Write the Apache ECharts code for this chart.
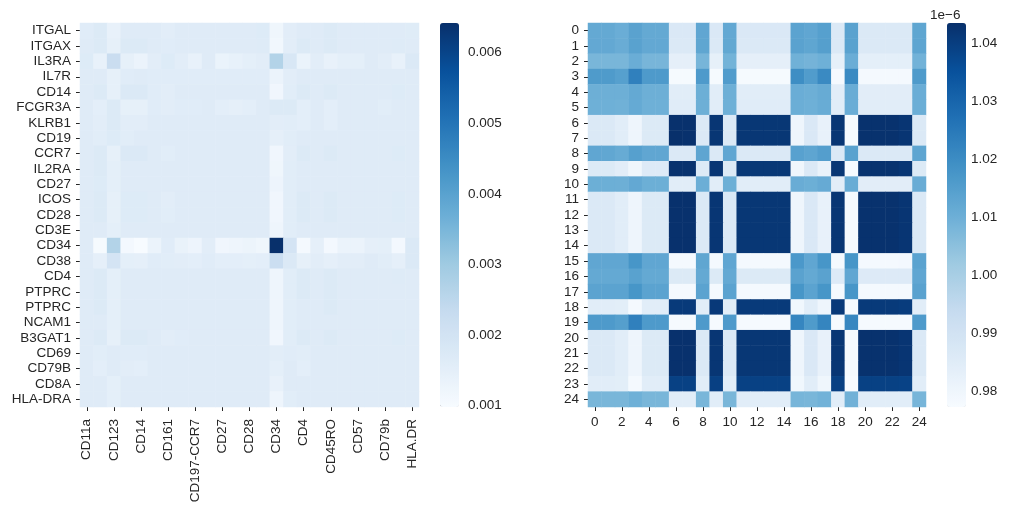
<!DOCTYPE html>
<html><head><meta charset="utf-8">
<script src="https://cdn.jsdelivr.net/npm/echarts@6/dist/echarts.min.js"></script>
<style>html,body{margin:0;padding:0;background:#fff}#c{width:1012px;height:513px}</style>
</head><body><div id="c"></div>
<script>
// ---------- data ----------
const leftRowLabels = ['ITGAL','ITGAX','IL3RA','IL7R','CD14','FCGR3A','KLRB1','CD19','CCR7','IL2RA','CD27','ICOS','CD28','CD3E','CD34','CD38','CD4','PTPRC','PTPRC','NCAM1','B3GAT1','CD69','CD79B','CD8A','HLA-DRA'];
const leftColLabels = ['CD11a','CD11c','CD123','CD127','CD14','CD16','CD161','CD19','CD197-CCR7','CD25','CD27','CD278-ICOS','CD28','CD3','CD34','CD38','CD4','CD45RA','CD45RO','CD56','CD57','CD69','CD79b','CD8a','HLA.DR'];
const leftMatrix = [
 [0.00161,0.00171,0.00140,0.00164,0.00164, 0.00164,0.00156,0.00164,0.00164,0.00164, 0.00164,0.00164,0.00164,0.00168,0.00120, 0.00156,0.00164,0.00164,0.00171,0.00164, 0.00164,0.00164,0.00164,0.00164,0.00162],
 [0.00164,0.00171,0.00145,0.00171,0.00171, 0.00164,0.00161,0.00164,0.00164,0.00164, 0.00164,0.00164,0.00164,0.00166,0.00115, 0.00156,0.00171,0.00164,0.00171,0.00164, 0.00164,0.00164,0.00164,0.00166,0.00164],
 [0.00168,0.00140,0.00224,0.00145,0.00130, 0.00156,0.00168,0.00156,0.00140,0.00164, 0.00134,0.00142,0.00151,0.00156,0.00267, 0.00184,0.00134,0.00156,0.00140,0.00151, 0.00151,0.00164,0.00156,0.00140,0.00174],
 [0.00164,0.00164,0.00145,0.00161,0.00164, 0.00161,0.00161,0.00161,0.00161,0.00161, 0.00161,0.00161,0.00161,0.00161,0.00130, 0.00156,0.00164,0.00164,0.00164,0.00164, 0.00164,0.00164,0.00164,0.00164,0.00164],
 [0.00164,0.00171,0.00145,0.00174,0.00174, 0.00161,0.00156,0.00164,0.00164,0.00164, 0.00164,0.00164,0.00164,0.00164,0.00118, 0.00158,0.00171,0.00164,0.00171,0.00164, 0.00164,0.00164,0.00164,0.00168,0.00164],
 [0.00164,0.00153,0.00171,0.00145,0.00145, 0.00161,0.00156,0.00161,0.00161,0.00164, 0.00153,0.00148,0.00153,0.00164,0.00171, 0.00171,0.00153,0.00164,0.00153,0.00164, 0.00164,0.00164,0.00158,0.00164,0.00164],
 [0.00164,0.00156,0.00171,0.00156,0.00156, 0.00164,0.00164,0.00164,0.00164,0.00164, 0.00164,0.00164,0.00164,0.00164,0.00156, 0.00158,0.00153,0.00164,0.00153,0.00164, 0.00164,0.00164,0.00164,0.00164,0.00164],
 [0.00164,0.00158,0.00168,0.00158,0.00164, 0.00164,0.00164,0.00164,0.00164,0.00164, 0.00164,0.00164,0.00164,0.00164,0.00148, 0.00158,0.00164,0.00164,0.00164,0.00164, 0.00164,0.00164,0.00164,0.00164,0.00164],
 [0.00164,0.00171,0.00145,0.00174,0.00174, 0.00164,0.00158,0.00164,0.00164,0.00164, 0.00164,0.00164,0.00164,0.00164,0.00118, 0.00156,0.00171,0.00164,0.00171,0.00164, 0.00164,0.00164,0.00164,0.00168,0.00164],
 [0.00164,0.00171,0.00151,0.00164,0.00164, 0.00164,0.00164,0.00164,0.00164,0.00164, 0.00164,0.00164,0.00164,0.00164,0.00120, 0.00158,0.00164,0.00164,0.00164,0.00164, 0.00164,0.00164,0.00164,0.00164,0.00164],
 [0.00164,0.00168,0.00151,0.00164,0.00164, 0.00164,0.00164,0.00164,0.00164,0.00164, 0.00164,0.00164,0.00164,0.00164,0.00126, 0.00158,0.00164,0.00164,0.00164,0.00164, 0.00164,0.00164,0.00164,0.00164,0.00164],
 [0.00164,0.00171,0.00145,0.00168,0.00168, 0.00164,0.00156,0.00164,0.00164,0.00164, 0.00164,0.00164,0.00164,0.00164,0.00118, 0.00158,0.00171,0.00164,0.00171,0.00164, 0.00164,0.00164,0.00164,0.00168,0.00164],
 [0.00164,0.00171,0.00145,0.00168,0.00168, 0.00164,0.00158,0.00164,0.00164,0.00164, 0.00164,0.00164,0.00164,0.00164,0.00118, 0.00158,0.00171,0.00164,0.00171,0.00164, 0.00164,0.00164,0.00164,0.00168,0.00164],
 [0.00164,0.00164,0.00151,0.00164,0.00164, 0.00164,0.00164,0.00164,0.00164,0.00164, 0.00164,0.00164,0.00164,0.00164,0.00123, 0.00158,0.00164,0.00164,0.00164,0.00164, 0.00164,0.00164,0.00164,0.00164,0.00164],
 [0.00164,0.00104,0.00267,0.00110,0.00098, 0.00132,0.00161,0.00137,0.00126,0.00156, 0.00118,0.00123,0.00129,0.00120,0.00642, 0.00195,0.00105,0.00148,0.00110,0.00132, 0.00132,0.00148,0.00151,0.00110,0.00174],
 [0.00164,0.00148,0.00195,0.00151,0.00148, 0.00161,0.00158,0.00156,0.00153,0.00161, 0.00153,0.00153,0.00151,0.00153,0.00221, 0.00174,0.00145,0.00156,0.00148,0.00156, 0.00156,0.00164,0.00158,0.00148,0.00174],
 [0.00164,0.00171,0.00151,0.00164,0.00164, 0.00164,0.00164,0.00164,0.00164,0.00164, 0.00164,0.00164,0.00164,0.00164,0.00123, 0.00158,0.00171,0.00164,0.00171,0.00164, 0.00164,0.00164,0.00164,0.00166,0.00164],
 [0.00164,0.00171,0.00151,0.00164,0.00164, 0.00164,0.00164,0.00164,0.00164,0.00164, 0.00164,0.00164,0.00164,0.00164,0.00123, 0.00158,0.00171,0.00164,0.00171,0.00164, 0.00164,0.00164,0.00164,0.00164,0.00164],
 [0.00164,0.00171,0.00151,0.00164,0.00164, 0.00164,0.00164,0.00164,0.00164,0.00164, 0.00164,0.00164,0.00164,0.00164,0.00123, 0.00158,0.00164,0.00164,0.00171,0.00164, 0.00164,0.00164,0.00164,0.00164,0.00164],
 [0.00164,0.00164,0.00151,0.00164,0.00164, 0.00164,0.00164,0.00164,0.00164,0.00164, 0.00164,0.00164,0.00164,0.00164,0.00123, 0.00158,0.00164,0.00164,0.00164,0.00164, 0.00164,0.00164,0.00164,0.00164,0.00164],
 [0.00164,0.00171,0.00145,0.00171,0.00171, 0.00164,0.00156,0.00161,0.00164,0.00164, 0.00164,0.00164,0.00164,0.00164,0.00118, 0.00158,0.00171,0.00164,0.00171,0.00164, 0.00164,0.00164,0.00164,0.00168,0.00164],
 [0.00164,0.00158,0.00164,0.00161,0.00161, 0.00164,0.00164,0.00164,0.00164,0.00164, 0.00164,0.00164,0.00164,0.00164,0.00156, 0.00161,0.00158,0.00164,0.00164,0.00164, 0.00164,0.00164,0.00164,0.00164,0.00164],
 [0.00164,0.00153,0.00164,0.00156,0.00153, 0.00164,0.00164,0.00164,0.00164,0.00164, 0.00164,0.00164,0.00164,0.00164,0.00151, 0.00164,0.00153,0.00164,0.00164,0.00164, 0.00164,0.00164,0.00164,0.00164,0.00164],
 [0.00164,0.00164,0.00151,0.00164,0.00164, 0.00164,0.00164,0.00164,0.00164,0.00164, 0.00164,0.00164,0.00164,0.00164,0.00140, 0.00164,0.00164,0.00164,0.00164,0.00164, 0.00164,0.00164,0.00164,0.00164,0.00164],
 [0.00164,0.00164,0.00151,0.00164,0.00164, 0.00164,0.00164,0.00164,0.00164,0.00164, 0.00164,0.00164,0.00164,0.00164,0.00123, 0.00158,0.00164,0.00164,0.00164,0.00164, 0.00164,0.00164,0.00164,0.00164,0.00164]
];
const leftCbarTicks = [0.001,0.002,0.003,0.004,0.005,0.006];

const rightLabels = ['0','1','2','3','4','5','6','7','8','9','10','11','12','13','14','15','16','17','18','19','20','21','22','23','24'];
// values in units of 1e-6
const rightMatrixE6 = [
 [1.0118,1.0118,1.0106,1.0138,1.0118, 1.0118,0.9869,0.9869,1.0126,0.9869, 1.0120,0.9869,0.9869,0.9869,0.9869, 1.0136,1.0126,1.0146,0.9866,1.0138, 0.9866,0.9866,0.9866,0.9866,1.0128],
 [1.0120,1.0120,1.0108,1.0140,1.0120, 1.0120,0.9866,0.9866,1.0128,0.9866, 1.0122,0.9866,0.9866,0.9866,0.9866, 1.0138,1.0128,1.0148,0.9864,1.0140, 0.9864,0.9864,0.9864,0.9864,1.0130],
 [1.0080,1.0080,1.0080,1.0106,1.0082, 1.0082,0.9832,0.9832,1.0084,0.9830, 1.0090,0.9832,0.9832,0.9832,0.9832, 1.0096,1.0088,1.0098,0.9830,1.0106, 0.9834,0.9834,0.9834,0.9834,1.0092],
 [1.0160,1.0160,1.0146,1.0231,1.0162, 1.0162,0.9779,0.9779,1.0162,0.9779, 1.0156,0.9779,0.9779,0.9779,0.9779, 1.0196,1.0156,1.0206,0.9780,1.0206, 0.9782,0.9782,0.9782,0.9782,1.0160],
 [1.0100,1.0100,1.0100,1.0118,1.0100, 1.0100,0.9845,0.9845,1.0102,0.9845, 1.0100,0.9845,0.9845,0.9845,0.9845, 1.0106,1.0100,1.0112,0.9842,1.0108, 0.9842,0.9842,0.9842,0.9842,1.0106],
 [1.0098,1.0098,1.0096,1.0116,1.0098, 1.0098,0.9848,0.9848,1.0100,0.9846, 1.0098,0.9848,0.9848,0.9848,0.9848, 1.0104,1.0098,1.0110,0.9845,1.0106, 0.9845,0.9845,0.9845,0.9845,1.0104],
 [0.9866,0.9866,0.9845,0.9802,0.9862, 0.9862,1.0432,1.0432,0.9866,1.0420, 0.9866,1.0418,1.0418,1.0418,1.0418, 0.9802,0.9869,0.9822,1.0420,0.9779, 1.0430,1.0430,1.0430,1.0422,0.9866],
 [0.9866,0.9866,0.9845,0.9802,0.9862, 0.9862,1.0435,1.0432,0.9866,1.0420, 0.9866,1.0418,1.0418,1.0418,1.0418, 0.9802,0.9869,0.9822,1.0420,0.9778, 1.0430,1.0430,1.0430,1.0422,0.9866],
 [1.0126,1.0124,1.0112,1.0146,1.0126, 1.0126,0.9866,0.9866,1.0130,0.9866, 1.0126,0.9866,0.9866,0.9866,0.9866, 1.0142,1.0130,1.0150,0.9864,1.0140, 0.9864,0.9864,0.9864,0.9864,1.0130],
 [0.9862,0.9862,0.9842,0.9800,0.9860, 0.9860,1.0430,1.0430,0.9862,1.0420, 0.9862,1.0416,1.0416,1.0416,1.0416, 0.9800,0.9866,0.9820,1.0418,0.9778, 1.0428,1.0428,1.0428,1.0420,0.9862],
 [1.0102,1.0102,1.0100,1.0120,1.0102, 1.0102,0.9845,0.9845,1.0104,0.9845, 1.0102,0.9845,0.9845,0.9845,0.9845, 1.0108,1.0102,1.0114,0.9842,1.0110, 0.9842,0.9842,0.9842,0.9842,1.0108],
 [0.9866,0.9866,0.9845,0.9802,0.9862, 0.9862,1.0432,1.0432,0.9866,1.0420, 0.9866,1.0418,1.0418,1.0418,1.0418, 0.9802,0.9869,0.9822,1.0420,0.9779, 1.0430,1.0430,1.0430,1.0422,0.9866],
 [0.9866,0.9866,0.9845,0.9802,0.9862, 0.9862,1.0432,1.0432,0.9866,1.0420, 0.9866,1.0418,1.0418,1.0418,1.0418, 0.9802,0.9869,0.9822,1.0420,0.9779, 1.0430,1.0430,1.0430,1.0422,0.9866],
 [0.9866,0.9866,0.9845,0.9802,0.9862, 0.9862,1.0432,1.0432,0.9866,1.0420, 0.9866,1.0418,1.0418,1.0418,1.0418, 0.9802,0.9869,0.9822,1.0420,0.9779, 1.0430,1.0430,1.0430,1.0422,0.9866],
 [0.9866,0.9866,0.9845,0.9802,0.9862, 0.9862,1.0432,1.0432,0.9866,1.0420, 0.9866,1.0418,1.0418,1.0418,1.0418, 0.9802,0.9869,0.9822,1.0420,0.9779, 1.0430,1.0430,1.0430,1.0422,0.9866],
 [1.0126,1.0126,1.0126,1.0176,1.0126, 1.0126,0.9782,0.9782,1.0128,0.9782, 1.0126,0.9782,0.9782,0.9782,0.9782, 1.0168,1.0126,1.0176,0.9782,1.0176, 0.9782,0.9782,0.9782,0.9785,1.0136],
 [1.0118,1.0118,1.0118,1.0140,1.0118, 1.0118,0.9862,0.9862,1.0118,0.9862, 1.0118,0.9862,0.9862,0.9862,0.9862, 1.0138,1.0118,1.0138,0.9860,1.0126, 0.9860,0.9860,0.9860,0.9860,1.0126],
 [1.0136,1.0136,1.0136,1.0176,1.0136, 1.0136,0.9782,0.9782,1.0136,0.9782, 1.0136,0.9782,0.9782,0.9782,0.9782, 1.0176,1.0136,1.0176,0.9782,1.0176, 0.9782,0.9782,0.9782,0.9782,1.0138],
 [0.9845,0.9845,0.9840,0.9782,0.9845, 0.9845,1.0410,1.0410,0.9845,1.0412, 0.9845,1.0410,1.0410,1.0410,1.0410, 0.9795,0.9845,0.9802,1.0412,0.9779, 1.0410,1.0410,1.0410,1.0405,0.9845],
 [1.0162,1.0162,1.0148,1.0231,1.0162, 1.0162,0.9779,0.9779,1.0162,0.9779, 1.0162,0.9779,0.9779,0.9779,0.9779, 1.0216,1.0160,1.0220,0.9779,1.0214, 0.9779,0.9779,0.9779,0.9779,1.0162],
 [0.9866,0.9866,0.9845,0.9802,0.9862, 0.9862,1.0432,1.0432,0.9866,1.0420, 0.9866,1.0418,1.0418,1.0418,1.0418, 0.9802,0.9869,0.9822,1.0420,0.9779, 1.0430,1.0430,1.0430,1.0422,0.9866],
 [0.9866,0.9866,0.9845,0.9802,0.9862, 0.9862,1.0432,1.0432,0.9866,1.0420, 0.9866,1.0418,1.0418,1.0418,1.0418, 0.9802,0.9869,0.9822,1.0420,0.9779, 1.0430,1.0430,1.0430,1.0422,0.9866],
 [0.9866,0.9866,0.9845,0.9802,0.9862, 0.9862,1.0432,1.0432,0.9866,1.0420, 0.9866,1.0418,1.0418,1.0418,1.0418, 0.9802,0.9869,0.9822,1.0420,0.9779, 1.0430,1.0430,1.0430,1.0422,0.9866],
 [0.9845,0.9845,0.9840,0.9782,0.9845, 0.9845,1.0392,1.0392,0.9845,1.0395, 0.9845,1.0392,1.0392,1.0392,1.0392, 0.9795,0.9845,0.9800,1.0395,0.9772, 1.0392,1.0392,1.0392,1.0390,0.9845],
 [1.0080,1.0080,1.0080,1.0098,1.0080, 1.0080,0.9845,0.9845,1.0080,0.9845, 1.0080,0.9845,0.9845,0.9845,0.9845, 1.0084,1.0080,1.0092,0.9845,1.0094, 0.9845,0.9845,0.9845,0.9845,1.0084]
];
const rightCbarTicks = [0.98,0.99,1.00,1.01,1.02,1.03,1.04];
const rightOffsetText = '1e\u22126';

const BLUES = ['#f7fbff','#deebf7','#c6dbef','#9ecae1','#6baed6','#4292c6','#2171b5','#08519c','#08306b'];

// ---------- build ----------
function toCells(m){const out=[];m.forEach((row,i)=>row.forEach((v,j)=>out.push([j,i,v])));return out;}
const lAll = leftMatrix.flat(), rAll = rightMatrixE6.flat();
const lMin = Math.min(...lAll), lMax = Math.max(...lAll);
const rMin = Math.min(...rAll), rMax = Math.max(...rAll);

const FONT = "'Liberation Sans', Arial, Helvetica, sans-serif";
const TXT = '#262626';
const FS = 13.5;
const lbl = (extra) => Object.assign({fontFamily:FONT,fontSize:FS,color:TXT}, extra||{});
const tick = (extra) => Object.assign({show:true,length:4,lineStyle:{color:TXT,width:1}}, extra||{});

const G1 = {left:80, top:23, width:339, height:384};
const C1 = {left:440, top:23, width:19, height:384};
const G2 = {left:588, top:23, width:338, height:384};
const C2 = {left:947, top:23, width:19, height:384};

const chart = echarts.init(document.getElementById('c'));
chart.setOption({
  animation:false,
  backgroundColor:'#fff',
  grid:[G1,C1,G2,C2].map(g=>Object.assign({containLabel:false},g)),
  xAxis:[
    {gridIndex:0,type:'category',data:leftColLabels,axisLine:{show:false},splitLine:{show:false},
     axisTick:tick({alignWithLabel:true,interval:1}),axisLabel:lbl({interval:1,rotate:90,margin:12})},
    {gridIndex:1,type:'value',show:false,min:0,max:1},
    {gridIndex:2,type:'category',data:rightLabels,axisLine:{show:false},splitLine:{show:false},
     axisTick:tick({alignWithLabel:true,interval:1}),axisLabel:lbl({interval:1,margin:8})},
    {gridIndex:3,type:'value',show:false,min:0,max:1}
  ],
  yAxis:[
    {gridIndex:0,type:'category',data:leftRowLabels,inverse:true,axisLine:{show:false},splitLine:{show:false},
     axisTick:tick({alignWithLabel:true,interval:0}),axisLabel:lbl({interval:0,margin:9})},
    {gridIndex:1,type:'value',position:'right',min:lMin,max:lMax,axisLine:{show:false},splitLine:{show:false},
     axisTick:tick({customValues:leftCbarTicks}),
     axisLabel:lbl({customValues:leftCbarTicks,margin:9,formatter:v=>v.toFixed(3)})},
    {gridIndex:2,type:'category',data:rightLabels,inverse:true,axisLine:{show:false},splitLine:{show:false},
     axisTick:tick({alignWithLabel:true,interval:0}),axisLabel:lbl({interval:0,margin:9})},
    {gridIndex:3,type:'value',position:'right',min:rMin,max:rMax,axisLine:{show:false},splitLine:{show:false},
     axisTick:tick({customValues:rightCbarTicks}),
     axisLabel:lbl({customValues:rightCbarTicks,margin:5,formatter:v=>v.toFixed(2)})}
  ],
  visualMap:[
    {type:'continuous',seriesIndex:0,min:lMin,max:lMax,inRange:{color:BLUES},show:true,calculable:false,
     hoverLink:false,itemWidth:19,itemHeight:384,left:C1.left,top:C1.top,padding:0,orient:'vertical'},
    {type:'continuous',seriesIndex:1,min:rMin,max:rMax,inRange:{color:BLUES},show:true,calculable:false,
     hoverLink:false,itemWidth:19,itemHeight:384,left:C2.left,top:C2.top,padding:0,orient:'vertical'}
  ],
  graphic:[{type:'text',left:930,top:8,style:{text:rightOffsetText,font:FS+"px "+FONT,fill:TXT}}],
  series:[
    {type:'heatmap',xAxisIndex:0,yAxisIndex:0,data:toCells(leftMatrix),progressive:0,emphasis:{disabled:true},itemStyle:{borderWidth:0}},
    {type:'heatmap',xAxisIndex:2,yAxisIndex:2,data:toCells(rightMatrixE6),progressive:0,emphasis:{disabled:true},itemStyle:{borderWidth:0}}
  ]
});
</script>
</body></html>
